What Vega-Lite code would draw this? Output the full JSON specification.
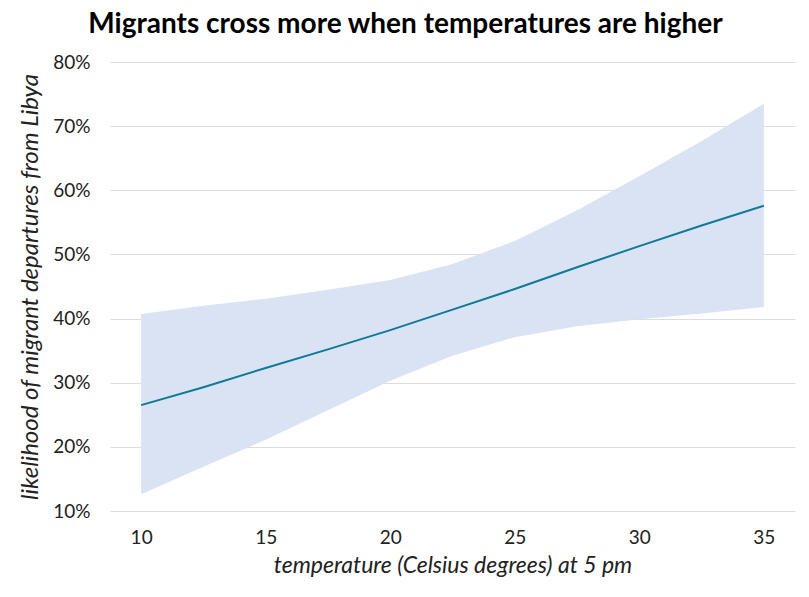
{
  "$schema": "https://vega.github.io/schema/vega-lite/v6.json",
  "width": 685,
  "height": 449,
  "autosize": {"type": "none"},
  "padding": {"left": 110, "top": 62, "right": 14, "bottom": 86},
  "background": "white",
  "title": {
    "text": "Migrants cross more when temperatures are higher",
    "font": "Lato",
    "fontSize": 28,
    "fontWeight": "bold",
    "color": "#000000",
    "anchor": "middle",
    "frame": "group",
    "dx": -47,
    "offset": 14
  },
  "config": {
    "view": {"stroke": null},
    "font": "Lato"
  },
  "data": {
    "values": [
      {"temp": 10, "fit": 26.5, "lo": 12.6, "hi": 40.7},
      {"temp": 12.5, "fit": 29.3, "lo": 16.9, "hi": 42.0},
      {"temp": 15, "fit": 32.3, "lo": 21.1, "hi": 43.1},
      {"temp": 17.5, "fit": 35.2, "lo": 25.7, "hi": 44.5},
      {"temp": 20, "fit": 38.2, "lo": 30.3, "hi": 46.0},
      {"temp": 22.5, "fit": 41.4, "lo": 34.2, "hi": 48.5},
      {"temp": 25, "fit": 44.6, "lo": 37.1, "hi": 52.1},
      {"temp": 27.5, "fit": 48.0, "lo": 38.8, "hi": 56.9},
      {"temp": 30, "fit": 51.3, "lo": 39.9, "hi": 62.2},
      {"temp": 32.5, "fit": 54.5, "lo": 40.8, "hi": 67.7},
      {"temp": 35, "fit": 57.6, "lo": 41.8, "hi": 73.5}
    ]
  },
  "encoding": {
    "x": {
      "field": "temp",
      "type": "quantitative",
      "scale": {"domain": [8.75, 36.25], "nice": false, "zero": false},
      "axis": {
        "title": "temperature (Celsius degrees) at 5 pm",
        "values": [10, 15, 20, 25, 30, 35],
        "grid": false,
        "domain": false,
        "ticks": false,
        "labelFontSize": 19,
        "labelColor": "#222222",
        "labelPadding": 17,
        "titleFont": "Lato",
        "titleFontSize": 23,
        "titleFontWeight": "normal",
        "titleFontStyle": "italic",
        "titleColor": "#222222",
        "titlePadding": 7
      }
    }
  },
  "layer": [
    {
      "mark": {"type": "area", "color": "#dae3f3", "opacity": 1},
      "encoding": {
        "y": {
          "field": "lo",
          "type": "quantitative",
          "scale": {"domain": [10, 80], "nice": false, "zero": false},
          "axis": {
            "title": "likelihood of migrant departures from Libya",
            "values": [10, 20, 30, 40, 50, 60, 70, 80],
            "labelExpr": "datum.value + '%'",
            "grid": true,
            "gridColor": "#dddddd",
            "domain": false,
            "ticks": false,
            "labelFontSize": 19,
            "labelColor": "#222222",
            "labelPadding": 20,
            "titleFont": "Lato",
            "titleFontSize": 24,
            "titleFontWeight": "normal",
            "titleFontStyle": "italic",
            "titleColor": "#222222",
            "titlePadding": 10
          }
        },
        "y2": {"field": "hi"}
      }
    },
    {
      "mark": {"type": "line", "color": "#0e7a96", "strokeWidth": 2},
      "encoding": {
        "y": {"field": "fit", "type": "quantitative"}
      }
    }
  ]
}
